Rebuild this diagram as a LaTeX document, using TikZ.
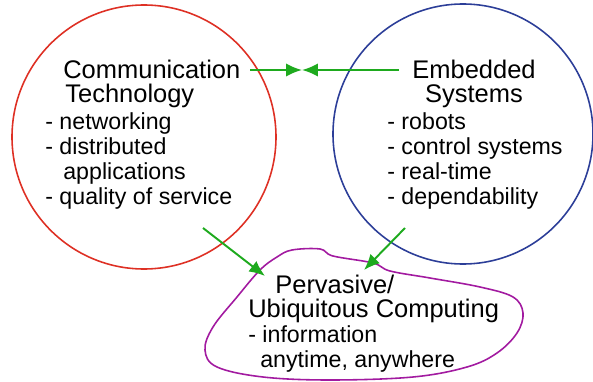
\documentclass[tikz,border=0pt]{standalone}
\usepackage{fontspec}
\setmainfont{Liberation Sans}
\usetikzlibrary{arrows.meta}
\definecolor{commred}{RGB}{222,48,36}
\definecolor{embblue}{RGB}{44,62,152}
\definecolor{linkgreen}{RGB}{30,170,30}
\definecolor{pervpurple}{RGB}{162,26,160}
\tikzset{
  titletext/.style={inner sep=0pt, anchor=base west, align=left, font=\fontsize{14.5}{13.3}\selectfont},
  listtext/.style={inner sep=0pt, anchor=base west, align=left, font=\fontsize{13.2}{14.2}\selectfont},
  link/.style={color=linkgreen, line width=1.1pt, -{Latex[length=9pt,width=7.5pt]}}
}

\begin{document}
\begin{tikzpicture}[x=0.02cm, y=-0.02cm]
\useasboundingbox (0,0) rectangle (593,382);
\coordinate (C) at (144,137);
\coordinate (E) at (463,134);
\draw [color=commred, line width=0.9pt] (C) circle (132);
\draw [color=embblue, line width=0.9pt] (E) circle (130);
\draw [color=pervpurple, line width=0.9pt] plot [smooth cycle, tension=0.6] coordinates {
  (277,257) (292,250) (320,249) (333,256) (373,263) (390,271) (430,278)
  (480,287) (513,297) (523,313) (517,333) (497,353) (467,367) (413,377)
  (330,380) (263,377) (217,367) (205,350) (213,327) (237,297) (260,270)};
% circle texts (base = last line)
\node [titletext] (commTitle) at (63,102) {Communication\\\hspace*{0.04cm}Technology};
\node [listtext] (commList) at (45,204) {- networking\\- distributed\\\hspace*{0.36cm}applications\\- quality of service};
\node [titletext, anchor=base, align=center] (embTitle) at (474,102) {Embedded\\Systems};
\node [listtext] (embList) at (387,204) {- robots\\- control systems\\- real-time\\- dependability};
\node [titletext] (pervTitle) at (248,317) {\hspace*{0.54cm}Pervasive/\\Ubiquitous Computing};
\node [listtext] (pervList) at (248,367) {- information\\\hspace*{0.24cm}anytime, anywhere};
% links
\coordinate (c1) at (250,70);
\coordinate (c2) at (399,70);
\coordinate (m) at (302,70);
\draw [link] (c1) -- (m);
\draw [link] (c2) -- (m);
\coordinate (d1) at (203,228);
\coordinate (d2) at (265,276);
\coordinate (d3) at (405,228);
\coordinate (d4) at (364,270);
\draw [link] (d1) -- (d2);
\draw [link] (d3) -- (d4);
\end{tikzpicture}
\end{document}
